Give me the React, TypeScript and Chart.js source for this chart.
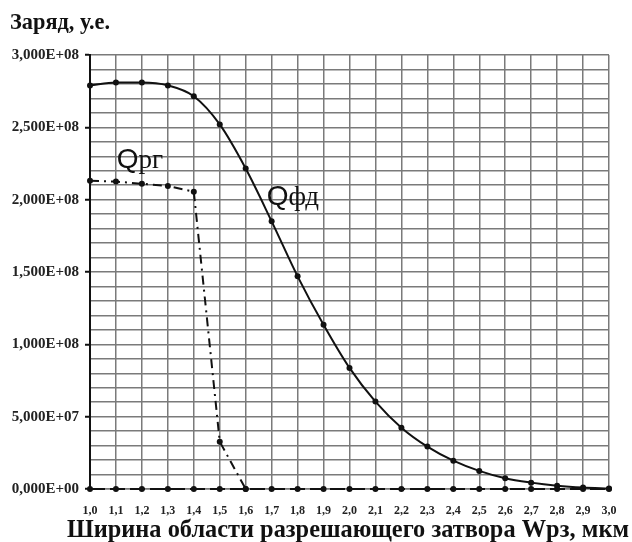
import { useEffect, useRef } from 'react';
import { Chart, registerables } from 'chart.js';

Chart.register(...registerables);

// ---- data ----
const categories = [
  '1,0', '1,1', '1,2', '1,3', '1,4', '1,5', '1,6', '1,7', '1,8', '1,9', '2,0',
  '2,1', '2,2', '2,3', '2,4', '2,5', '2,6', '2,7', '2,8', '2,9', '3,0',
];
const qFd = [
  2.79e8, 2.81e8, 2.81e8, 2.79e8, 2.715e8, 2.52e8, 2.215e8, 1.85e8, 1.47e8, 1.135e8, 0.837e8,
  0.604e8, 0.424e8, 0.293e8, 0.196e8, 0.125e8, 0.074e8, 0.044e8, 0.023e8, 0.01e8, 0.003e8,
];
const qRg = [
  2.13e8, 2.125e8, 2.11e8, 2.095e8, 2.055e8, 0.327e8, 0, null, null, null, null,
  null, null, null, null, null, null, null, null, null, null,
];
const zeroLine = [
  0, 0, 0, 0, 0, 0, 0, 0, 0, 0, 0,
  0, 0, 0, 0, 0, 0, 0, 0, 0, 0,
];
const seriesNames = ['Qфд', 'Qрг'];
const yTitle = 'Заряд, у.е.';
const xTitle = 'Ширина области разрешающего затвора Wрз, мкм';
const yMin = 0;
const yMax = 3e8;
const yGridStep = 1e7;
const yLabelStep = 5e7;

const SERIF = '"Liberation Serif", "Times New Roman", serif';
const SANS = '"Liberation Sans", Arial, sans-serif';

function formatSci(v: number): string {
  const s = v.toExponential(3); // e.g. 3.000e+8
  const [m, e] = s.split('e');
  const sign = e[0] === '-' ? '-' : '+';
  const digits = e.replace(/[+-]/, '').padStart(2, '0');
  return m.replace('.', ',') + 'E' + sign + digits;
}

function drawFitted(ctx: CanvasRenderingContext2D, text: string, font: string, x: number, y: number, width: number) {
  ctx.save();
  ctx.font = font;
  const w = ctx.measureText(text).width;
  ctx.translate(x, y);
  ctx.scale(width / w, 1);
  ctx.textAlign = 'left';
  ctx.textBaseline = 'alphabetic';
  ctx.fillText(text, 0, 0);
  ctx.restore();
}

const textPlugin = {
  id: 'textPlugin',
  afterDraw(chart: any) {
    const ctx: CanvasRenderingContext2D = chart.ctx;
    const xs = chart.scales.x;
    const ys = chart.scales.y;
    ctx.save();
    ctx.fillStyle = '#111';
    const anns = [
      { text: seriesNames[1], index: 1.03, value: 2.22e8 },
      { text: seriesNames[0], index: 6.81, value: 1.965e8 },
    ];
    anns.forEach((a) => {
      const px = xs.getPixelForValue(a.index);
      const py = ys.getPixelForValue(a.value);
      ctx.textAlign = 'left';
      ctx.textBaseline = 'alphabetic';
      ctx.font = `28px ${SANS}`;
      ctx.fillText(a.text[0], px, py);
      const w = ctx.measureText(a.text[0]).width;
      ctx.font = `27px ${SERIF}`;
      ctx.fillText(a.text.slice(1), px + w, py);
    });
    drawFitted(ctx, yTitle, `bold 23px ${SERIF}`, 10, 29, 100);
    drawFitted(ctx, xTitle, `bold 25px ${SERIF}`, 67, 537, 562);
    ctx.restore();
  },
};

export default function App() {
  const ref = useRef<HTMLCanvasElement>(null);
  useEffect(() => {
    document.body.style.margin = '0';
    const canvas = ref.current;
    if (!canvas) return;
    const chart = new Chart(canvas, {
      type: 'line',
      data: {
        labels: categories,
        datasets: [
          {
            label: 'zero',
            data: zeroLine,
            borderColor: '#111',
            backgroundColor: '#111',
            borderWidth: 2,
            borderDash: [15, 5],
            pointRadius: 3,
            pointBorderWidth: 0,
            pointBackgroundColor: '#111',
            tension: 0,
            fill: false,
            clip: 6,
          },
          {
            label: seriesNames[0],
            data: qFd,
            borderColor: '#111',
            backgroundColor: '#111',
            borderWidth: 2,
            pointRadius: 3,
            pointBorderWidth: 0,
            pointBackgroundColor: '#111',
            cubicInterpolationMode: 'monotone',
            fill: false,
            clip: 6,
          },
          {
            label: seriesNames[1],
            data: qRg,
            borderColor: '#111',
            backgroundColor: '#111',
            borderWidth: 2,
            borderDash: [9, 5, 2, 5],
            pointRadius: 3,
            pointBorderWidth: 0,
            pointBackgroundColor: '#111',
            tension: 0,
            fill: false,
            clip: 6,
            spanGaps: false,
          },
        ],
      },
      options: {
        responsive: false,
        animation: false,
        devicePixelRatio: 1,
        layout: { padding: { top: 55, right: 23, left: 0, bottom: 0 } },
        plugins: {
          legend: { display: false },
          tooltip: { enabled: false },
          title: { display: false },
        },
        scales: {
          x: {
            type: 'category',
            offset: false,
            afterFit: (s: any) => { s.height = 53; },
            border: { display: true, color: '#7a7a7a', width: 1.5 },
            grid: { color: '#7a7a7a', lineWidth: 1.5, drawTicks: false },
            ticks: {
              autoSkip: false,
              maxRotation: 0,
              padding: 15,
              color: '#222',
              font: { family: SERIF, size: 12, weight: 'bold' },
            },
          },
          y: {
            type: 'linear',
            min: yMin,
            max: yMax,
            afterFit: (s: any) => { s.width = 90; },
            border: { display: true, color: '#111', width: 2 },
            grid: {
              color: '#7a7a7a',
              lineWidth: 1.5,
              drawTicks: true,
              tickLength: 5,
              tickWidth: 2,
              tickColor: (c: any) => (c.tick && Math.round(c.tick.value) % yLabelStep === 0 ? '#111' : 'rgba(0,0,0,0)'),
            },
            ticks: {
              stepSize: yGridStep,
              autoSkip: false,
              padding: 6,
              color: '#222',
              font: { family: SERIF, size: 15, weight: 'bold' },
              callback: (v: any) => (Math.round(Number(v)) % yLabelStep === 0 ? formatSci(Number(v)) : ''),
            },
          },
        },
      },
      plugins: [textPlugin],
    } as any);
    return () => chart.destroy();
  }, []);
  return <canvas ref={ref} width={632} height={542} style={{ display: 'block', width: 632, height: 542 }} />;
}
